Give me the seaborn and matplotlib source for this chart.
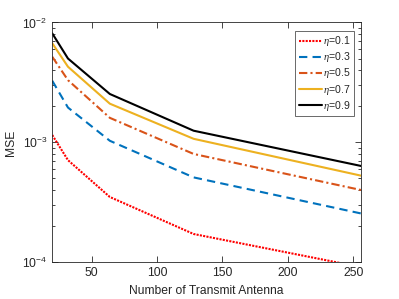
import matplotlib
matplotlib.use("Agg")
import matplotlib.pyplot as plt
import pandas as pd
import seaborn as sns

antennas = [20, 32, 64, 128, 256]
mse_01 = [1.15e-3, 7.1e-4, 3.5e-4, 1.72e-4, 9.1e-5]
mse_03 = [3.26e-3, 1.95e-3, 1.03e-3, 5.1e-4, 2.55e-4]
mse_05 = [5.17e-3, 3.3e-3, 1.6e-3, 8.0e-4, 4.0e-4]
mse_07 = [6.7e-3, 4.27e-3, 2.1e-3, 1.07e-3, 5.27e-4]
mse_09 = [8.1e-3, 5.0e-3, 2.53e-3, 1.25e-3, 6.35e-4]
labels = [r"$\eta$=0.1", r"$\eta$=0.3", r"$\eta$=0.5", r"$\eta$=0.7", r"$\eta$=0.9"]

series = [mse_01, mse_03, mse_05, mse_07, mse_09]
colors = ["#ff0000", "#0072bd", "#d95319", "#edb120", "#000000"]
styles = [(0, (1, 0.6)), (0, (4, 2.5)), (0, (4, 1.5, 1, 1.5)), "-", "-"]

sns.set_theme(style="ticks")
plt.rcParams["font.family"] = ["Liberation Sans", "DejaVu Sans"]
plt.rcParams["mathtext.fontset"] = "custom"
plt.rcParams["mathtext.rm"] = "Liberation Sans"
plt.rcParams["mathtext.it"] = "Liberation Serif:italic"

fig = plt.figure(figsize=(3.99, 2.99), dpi=100)
ax = fig.add_axes([0.131, 0.123, 0.774, 0.802])

for vals, lab, c, ls in zip(series, labels, colors, styles):
    df = pd.DataFrame({"N": antennas, "MSE": vals})
    sns.lineplot(data=df, x="N", y="MSE", ax=ax, color=c, linestyle=ls,
                 linewidth=1.5, label=lab)

ax.set_yscale("log")
ax.set_xlim(20, 256)
ax.set_ylim(1e-4, 1e-2)
ax.set_xticks([50, 100, 150, 200, 250])
ax.set_xlabel("Number of Transmit Antenna", fontsize=8.7, color="#262626")
ax.set_ylabel("MSE", fontsize=8.7, color="#262626")
ax.tick_params(which="both", direction="in", top=True, right=True,
               colors="#262626", labelsize=8.7, width=0.6)
ax.tick_params(which="major", length=4)
ax.tick_params(which="minor", length=2.2)
for s in ax.spines.values():
    s.set_color("#262626")
    s.set_linewidth(0.6)

leg = ax.legend(loc="upper right", bbox_to_anchor=(0.977, 0.964),
                borderaxespad=0, fontsize=7.6, frameon=True, fancybox=False,
                handlelength=2.2, handletextpad=0.15, borderpad=0.3,
                labelspacing=0.2)
leg.get_frame().set_edgecolor("#262626")
leg.get_frame().set_linewidth(0.6)

plt.savefig("out.png", dpi=100)
